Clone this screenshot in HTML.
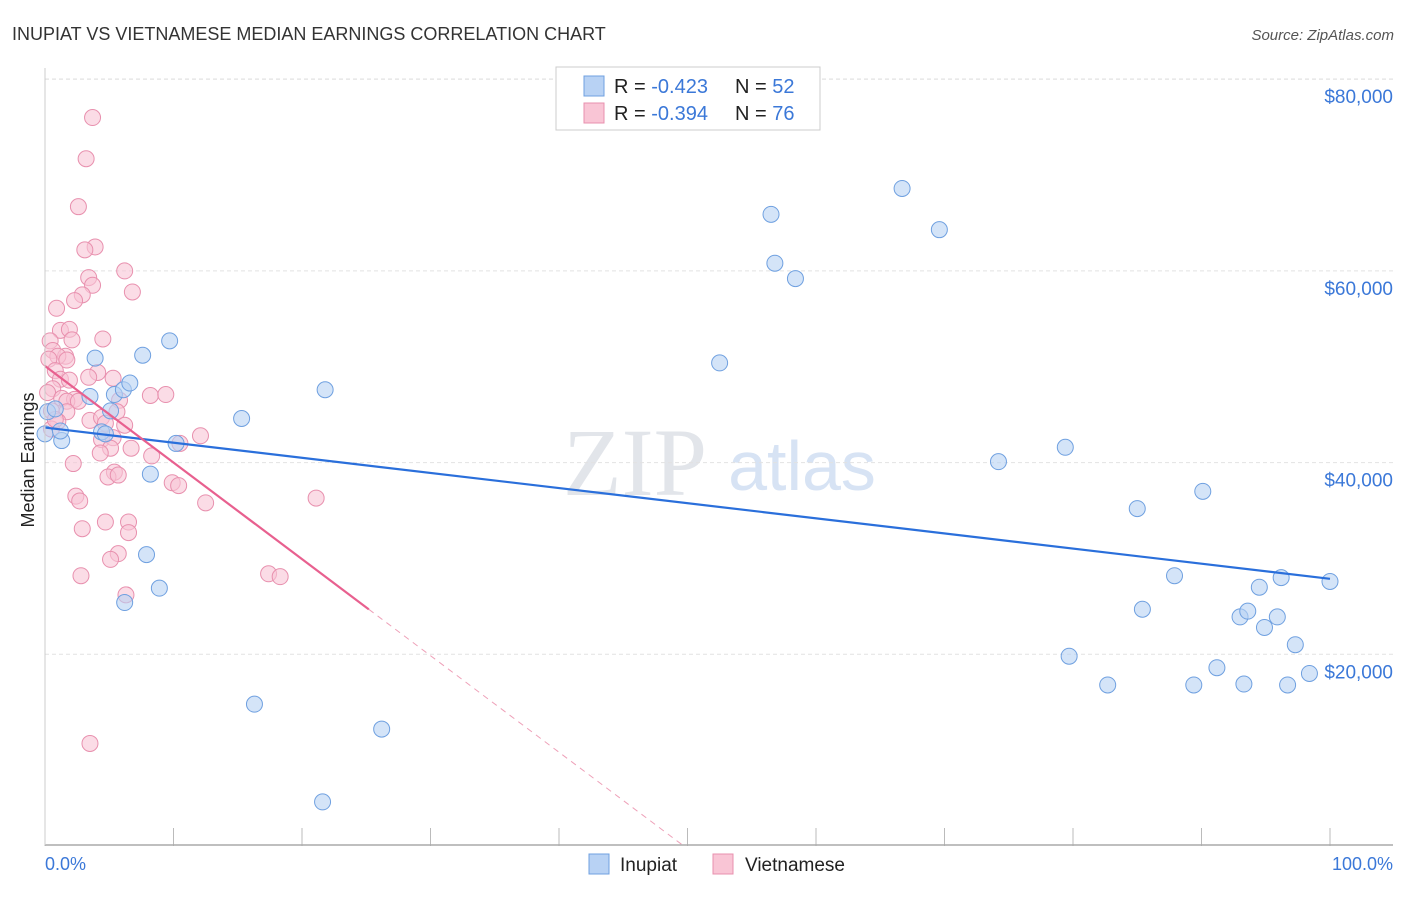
<!DOCTYPE html>
<html><head><meta charset="utf-8"><style>
body{margin:0;background:#fff;font-family:"Liberation Sans",sans-serif}
</style></head><body>
<svg id="c" width="1406" height="892" xmlns="http://www.w3.org/2000/svg">
<text x="12" y="40" font-size="18" fill="#333">INUPIAT VS VIETNAMESE MEDIAN EARNINGS CORRELATION CHART</text>
<text x="1394" y="40" font-size="15" fill="#555" font-style="italic" text-anchor="end">Source: ZipAtlas.com</text>
<text x="34" y="460" font-size="18" fill="#222" text-anchor="middle" transform="rotate(-90 34 460)">Median Earnings</text>
<text x="635" y="495" font-size="96" fill="#e2e5ea" font-family="Liberation Serif,serif" text-anchor="middle">ZIP</text>
<text x="802" y="490" font-size="70" fill="#d7e3f4" text-anchor="middle">atlas</text>
<g id="grid"></g><g id="pts"></g><g id="lines"></g>
<line x1="45" y1="845" x2="1393" y2="845" stroke="#aaa" stroke-width="1.5"/>
<line x1="45" y1="68" x2="45" y2="845" stroke="#ccc"/>
<text x="45" y="870" font-size="18" fill="#3b78d8">0.0%</text>
<text x="1393" y="870" font-size="18" fill="#3b78d8" text-anchor="end">100.0%</text>
<g>
<rect x="589" y="854" width="20" height="20" fill="#b8d2f4" stroke="#6fa0e0"/>
<text x="620" y="871" font-size="19" fill="#222">Inupiat</text>
<rect x="713" y="854" width="20" height="20" fill="#f9c5d5" stroke="#e890ae"/>
<text x="745" y="871" font-size="19" fill="#222">Vietnamese</text>
</g>
<g font-size="20">
<rect x="556" y="67" width="264" height="63" fill="#fff" stroke="#ccc"/>
<rect x="584" y="76" width="20" height="20" fill="#b8d2f4" stroke="#6fa0e0"/>
<text x="614" y="93" fill="#222">R = <tspan fill="#3b78d8">-0.423</tspan></text>
<text x="735" y="93" fill="#222">N = <tspan fill="#3b78d8">52</tspan></text>
<rect x="584" y="103" width="20" height="20" fill="#f9c5d5" stroke="#e890ae"/>
<text x="614" y="120" fill="#222">R = <tspan fill="#3b78d8">-0.394</tspan></text>
<text x="735" y="120" fill="#222">N = <tspan fill="#3b78d8">76</tspan></text>
</g>
</svg>
<script>
const yTicks=[20000,40000,60000,80000];
const xTickPct=[0,10,20,30,40,50,60,70,80,90,100];
const inupiatX=[0,0.2,0.8,1.3,3.9,3.5,4.4,5.4,5.1,6.1,6.6,7.6,9.7,10.2,8.2,7.9,8.9,6.2,15.3,16.3,21.8,21.6,26.2,52.5,56.5,56.8,58.4,66.7,69.6,74.2,79.4,79.7,82.7,85.0,85.4,87.9,89.4,90.1,91.2,93.0,93.6,93.3,94.5,94.9,95.9,96.2,96.7,97.3,98.4,100,4.7,1.2];
const inupiatY=[43000,45300,45600,42300,50900,46900,43200,47100,45400,47600,48300,51200,52700,42000,38800,30400,26900,25400,44600,14800,47600,4600,12200,50400,65900,60800,59200,68600,64300,40100,41600,19800,16800,35200,24700,28200,16800,37000,18600,23900,24500,16900,27000,22800,23900,28000,16800,21000,18000,27600,43000,43300];
const vietX=[3.7,3.2,2.6,3.9,3.1,6.2,3.4,3.7,2.9,6.8,2.3,0.9,1.2,1.9,2.1,4.5,0.4,0.6,1.6,1.0,0.3,1.7,0.8,4.1,3.4,5.3,1.2,1.9,0.6,0.2,1.3,2.3,1.7,2.6,0.5,1.7,5.8,8.2,9.4,3.5,4.4,5.6,4.7,6.2,1.0,0.5,4.4,5.3,5.1,10.5,12.1,6.7,4.3,8.3,2.2,5.4,4.9,5.7,9.9,10.4,2.4,2.7,12.5,21.1,4.7,6.5,6.5,2.9,5.7,5.1,2.8,17.4,18.3,6.3,3.5,0.8];
const vietY=[76000,71700,66700,62500,62200,60000,59300,58500,57500,57800,56900,56100,53800,53900,52800,52900,52700,51700,51100,51100,50800,50700,49600,49400,48900,48800,48700,48600,47700,47300,46700,46600,46400,46400,45400,45300,46500,47000,47100,44400,44700,45300,44100,43900,44300,43500,42400,42600,41500,42000,42800,41500,41000,40700,39900,39000,38500,38700,37900,37600,36500,36000,35800,36300,33800,33800,32700,33100,30500,29900,28200,28400,28100,26200,10700,44500];
const X=p=>45+p*12.85, Y=v=>846-v*0.009585;
const ns="http://www.w3.org/2000/svg";
function mk(t,a,parent){const e=document.createElementNS(ns,t);for(const k in a)e.setAttribute(k,a[k]);document.getElementById(parent).appendChild(e);return e;}
yTicks.forEach(v=>{
 const l=mk('line',{x1:45,x2:1393,y1:Y(v),y2:Y(v),stroke:'#e2e2e2','stroke-dasharray':'4 3'},'grid');
 
 
 const t=mk('text',{x:1393,y:Y(v)+24,'font-size':19,fill:'#3b78d8','text-anchor':'end'},'grid');
 t.textContent='$'+v.toLocaleString('en-US');
 
 
});
mk('line',{x1:45,x2:1393,y1:79,y2:79,stroke:'#e2e2e2','stroke-dasharray':'4 3'},'grid');
xTickPct.forEach(p=>{
 const l=mk('line',{x1:X(p),x2:X(p),y1:828,y2:846,stroke:'#bbb'},'grid');
 
 
});
vietX.forEach((x,i)=>{
 const c=mk('circle',{cx:X(x),cy:Y(vietY[i]),r:8,fill:'#f9c5d5','fill-opacity':0.6,stroke:'#e890ae','stroke-width':1},'pts');
 
 
});
inupiatX.forEach((x,i)=>{
 const c=mk('circle',{cx:X(x),cy:Y(inupiatY[i]),r:8,fill:'#b8d2f4','fill-opacity':0.6,stroke:'#6fa0e0','stroke-width':1},'pts');
 
 
});
function fit(xs,ys){const n=xs.length;let mx=0,my=0;xs.forEach((x,i)=>{mx+=x;my+=ys[i]});mx/=n;my/=n;let sxy=0,sxx=0;xs.forEach((x,i)=>{sxy+=(x-mx)*(ys[i]-my);sxx+=(x-mx)**2});const b=sxy/sxx;return [my-b*mx,b];}
const [a1,b1]=fit(inupiatX,inupiatY);
let l=mk('line',{x1:X(0),y1:Y(a1),x2:X(100),y2:Y(a1+b1*100),stroke:'#2a6fdb','stroke-width':2.2},'lines');


const [a2,b2]=fit(vietX,vietY);
const xz=-a2/b2;
l=mk('line',{x1:X(0),y1:Y(a2),x2:X(25.2),y2:Y(a2+b2*25.2),stroke:'#e8608f','stroke-width':2.2},'lines');


l=mk('line',{x1:X(25.2),y1:Y(a2+b2*25.2),x2:X(xz),y2:Y(0),stroke:'#eea0b8','stroke-width':1,'stroke-dasharray':'6 5'},'lines');


</script>
</body></html>
